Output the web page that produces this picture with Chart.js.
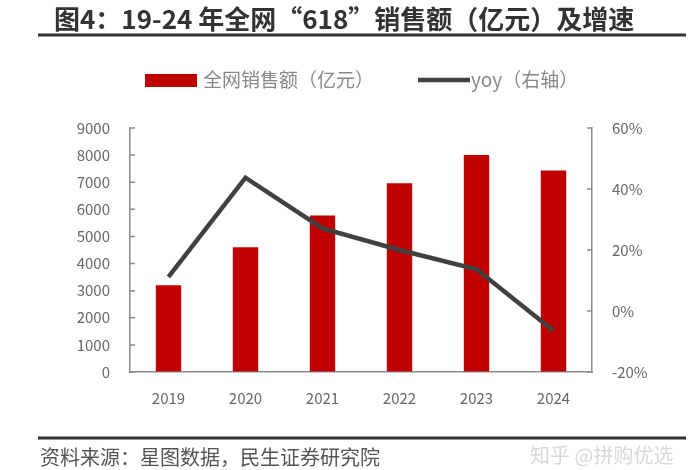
<!DOCTYPE html>
<html>
<head>
<meta charset="utf-8">
<script src="https://cdn.jsdelivr.net/npm/chart.js@4.4.1/dist/chart.umd.min.js"></script>
<style>
  html, body { margin: 0; padding: 0; background: #fff; }
  #wrap { width: 700px; height: 470px; }
</style>
</head>
<body>
<div id="wrap"><canvas id="chart" width="700" height="470"></canvas></div>
<script>
const years = ['2019', '2020', '2021', '2022', '2023', '2024'];
const sales = [3200, 4600, 5770, 6960, 8000, 7430];
const yoy = [11.2, 43.7, 27.1, 20.0, 13.7, -6.5];
const leftTicks = [0, 9000, 1000];
const rightTicks = [-20, 60, 20];

const FONT = '"Noto Sans CJK SC", "Noto Sans", sans-serif';

// title, rules, legend, source line and inward tick marks
const decor = {
    id: 'decor',
    afterDraw(chart) {
        const ctx = chart.ctx;
        ctx.save();
        ctx.textBaseline = 'middle';
        ctx.fillStyle = '#333';
        ctx.font = 'bold 26px ' + FONT;
        ctx.fillText('图4：19-24 年全网“618”销售额（亿元）及增速', 54, 19);
        ctx.strokeStyle = '#333';
        ctx.lineWidth = 3;
        ctx.beginPath();
        ctx.moveTo(38, 35); ctx.lineTo(686, 35);
        ctx.moveTo(38, 438); ctx.lineTo(686, 438);
        ctx.stroke();
        ctx.fillStyle = '#555';
        ctx.font = '20px ' + FONT;
        ctx.fillText('资料来源：星图数据，民生证券研究院', 40, 457);
        ctx.fillStyle = '#d8d8d8';
        ctx.fillText('知乎 @拼购优选', 530, 455);

        // legend
        const bar = chart.data.datasets[1];
        const line = chart.data.datasets[0];
        ctx.font = '19px ' + FONT;
        ctx.fillStyle = bar.backgroundColor;
        ctx.fillRect(145, 74, 52, 13);
        ctx.fillStyle = '#888';
        ctx.fillText(bar.label, 203, 80);
        ctx.strokeStyle = line.borderColor;
        ctx.lineWidth = line.borderWidth;
        ctx.beginPath();
        ctx.moveTo(418, 80); ctx.lineTo(470, 80);
        ctx.stroke();
        ctx.fillText(line.label, 471, 80);

        // small inward ticks on both value axes
        ctx.strokeStyle = '#8c8c8c';
        ctx.lineWidth = 1.5;
        const yl = chart.scales.y;
        const yr = chart.scales.y1;
        ctx.beginPath();
        yl.ticks.forEach((t, i) => {
            const py = yl.getPixelForTick(i);
            ctx.moveTo(yl.right, py); ctx.lineTo(yl.right + 5, py);
        });
        yr.ticks.forEach((t, i) => {
            const py = yr.getPixelForTick(i);
            ctx.moveTo(yr.left, py); ctx.lineTo(yr.left - 5, py);
        });
        ctx.stroke();
        ctx.restore();
    }
};

new Chart(document.getElementById('chart').getContext('2d'), {
    type: 'bar',
    data: {
        labels: years,
        datasets: [{
            type: 'line',
            label: 'yoy（右轴）',
            data: yoy,
            yAxisID: 'y1',
            borderColor: '#404040',
            backgroundColor: '#404040',
            borderWidth: 4.5,
            pointRadius: 0,
            tension: 0,
            order: 0
        }, {
            label: '全网销售额（亿元）',
            data: sales,
            yAxisID: 'y',
            backgroundColor: '#c00000',
            barPercentage: 0.5,
            categoryPercentage: 0.66,
            order: 1
        }]
    },
    options: {
        responsive: false,
        animation: false,
        layout: { padding: { top: 128, bottom: 58, left: 0, right: 0 } },
        plugins: {
            legend: { display: false },
            tooltip: { enabled: false }
        },
        scales: {
            x: {
                grid: { display: true, drawOnChartArea: false, drawTicks: false },
                border: { color: '#8c8c8c', width: 1.5 },
                ticks: { color: '#666', font: { family: FONT, size: 15 }, padding: 17 },
                afterFit(s) { s.height = 40; }
            },
            y: {
                position: 'left',
                min: leftTicks[0], max: leftTicks[1],
                grid: { display: true, drawOnChartArea: false, drawTicks: false },
                border: { color: '#8c8c8c', width: 1.5 },
                ticks: {
                    stepSize: leftTicks[2], color: '#666', font: { family: FONT, size: 15 }, padding: 20,
                    callback: v => String(v)
                },
                afterFit(s) { s.width = 130; }
            },
            y1: {
                position: 'right',
                min: rightTicks[0], max: rightTicks[1],
                grid: { display: true, drawOnChartArea: false, drawTicks: false },
                border: { color: '#8c8c8c', width: 1.5 },
                ticks: {
                    stepSize: rightTicks[2], color: '#666', font: { family: FONT, size: 15 }, padding: 20,
                    callback: v => v + '%'
                },
                afterFit(s) { s.width = 108; }
            }
        }
    },
    plugins: [decor]
});
</script>
</body>
</html>
